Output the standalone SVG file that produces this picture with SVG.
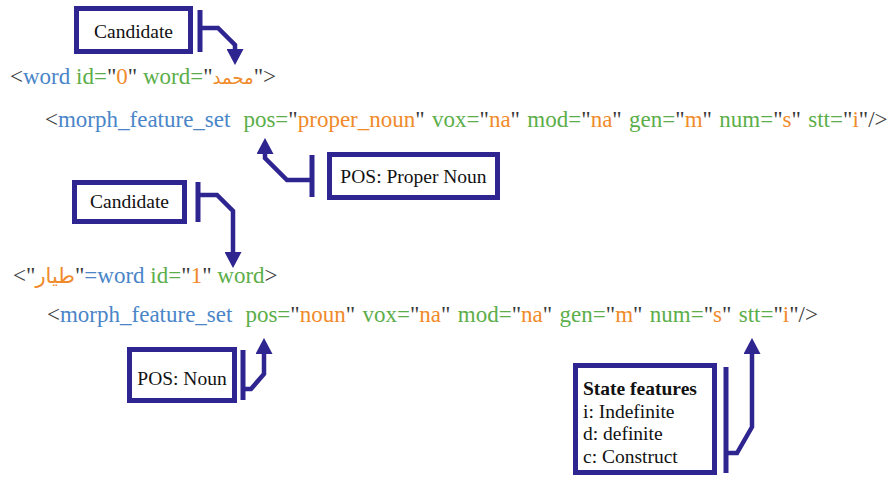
<svg xmlns="http://www.w3.org/2000/svg" width="891" height="477" viewBox="0 0 891 477">
  <style>
    .code { font-family: "Liberation Serif", "Times New Roman", Tinos, "DejaVu Serif", serif; font-size: 23px; fill: #3a3a3a; }
    .attrs { word-spacing: 1.6px; }
    .b { fill: #4a85c8; }
    .g { fill: #5cae4a; }
    .o { fill: #f08a2a; }
    .k { fill: #3a3a3a; }
    .ar { font-family: "DejaVu Sans", "Noto Sans", sans-serif; font-size: 18px; }
    .ar2 { font-size: 21px; }
    .box { fill: #ffffff; stroke: #2e2590; stroke-width: 5; }
    .lbl { font-family: "Liberation Serif", "Times New Roman", Tinos, "DejaVu Serif", serif; font-size: 19.5px; fill: #111111; }
    .bold { font-weight: bold; }
    .bar { fill: none; stroke: #2e2590; stroke-width: 5; }
    .conn { fill: none; stroke: #2e2590; stroke-width: 4.5; stroke-linejoin: miter; }
  </style>
  <defs>
    <marker id="arrow" markerUnits="userSpaceOnUse" markerWidth="16" markerHeight="17" refX="1" refY="8.5" orient="auto">
      <path d="M0,0 L16,8.5 L0,17 Z" fill="#2e2590"/>
    </marker>
  </defs>
  <rect width="891" height="477" fill="#ffffff"/>

  <!-- XML code lines -->
  <g id="code-lines">
    <text class="code" x="10" y="84"><tspan class="k">&lt;</tspan><tspan class="b">word</tspan> <tspan class="g">id=</tspan><tspan class="k">"</tspan><tspan class="o">0</tspan><tspan class="k">"</tspan> <tspan class="g">word=</tspan><tspan class="k">"</tspan><tspan class="o ar">محمد</tspan><tspan class="k">"&gt;</tspan></text>
    <text class="code attrs" x="45" y="127"><tspan class="k">&lt;</tspan><tspan class="b">morph_feature_set</tspan><tspan class="g" dx="13">pos=</tspan><tspan class="k">"</tspan><tspan class="o">proper_noun</tspan><tspan class="k">"</tspan> <tspan class="g">vox=</tspan><tspan class="k">"</tspan><tspan class="o">na</tspan><tspan class="k">"</tspan> <tspan class="g">mod=</tspan><tspan class="k">"</tspan><tspan class="o">na</tspan><tspan class="k">"</tspan> <tspan class="g">gen=</tspan><tspan class="k">"</tspan><tspan class="o">m</tspan><tspan class="k">"</tspan> <tspan class="g">num=</tspan><tspan class="k">"</tspan><tspan class="o">s</tspan><tspan class="k">"</tspan> <tspan class="g">stt=</tspan><tspan class="k">"</tspan><tspan class="o">i</tspan><tspan class="k">"/&gt;</tspan></text>
    <text class="code" x="13" y="283"><tspan class="k">&lt;"</tspan><tspan class="o ar ar2">طيار</tspan><tspan class="k">"</tspan><tspan class="b">=word</tspan> <tspan class="g">id=</tspan><tspan class="k">"</tspan><tspan class="o">1</tspan><tspan class="k">"</tspan> <tspan class="g">word</tspan><tspan class="k">&gt;</tspan></text>
    <text class="code attrs" x="47" y="322"><tspan class="k">&lt;</tspan><tspan class="b">morph_feature_set</tspan><tspan class="g" dx="13">pos=</tspan><tspan class="k">"</tspan><tspan class="o">noun</tspan><tspan class="k">"</tspan> <tspan class="g">vox=</tspan><tspan class="k">"</tspan><tspan class="o">na</tspan><tspan class="k">"</tspan> <tspan class="g">mod=</tspan><tspan class="k">"</tspan><tspan class="o">na</tspan><tspan class="k">"</tspan> <tspan class="g">gen=</tspan><tspan class="k">"</tspan><tspan class="o">m</tspan><tspan class="k">"</tspan> <tspan class="g">num=</tspan><tspan class="k">"</tspan><tspan class="o">s</tspan><tspan class="k">"</tspan> <tspan class="g">stt=</tspan><tspan class="k">"</tspan><tspan class="o">i</tspan><tspan class="k">"/&gt;</tspan></text>
  </g>

  <!-- callout boxes -->
  <g id="candidate-1">
    <rect class="box" x="76.5" y="8.5" width="114" height="43"/>
    <text class="lbl" x="133.5" y="38" text-anchor="middle">Candidate</text>
  </g>
  <g id="pos-proper-noun">
    <rect class="box" x="329.5" y="154.5" width="168" height="43"/>
    <text class="lbl" x="413.5" y="183" text-anchor="middle">POS: Proper Noun</text>
  </g>
  <g id="candidate-2">
    <rect class="box" x="74.5" y="182.5" width="110" height="39"/>
    <text class="lbl" x="129.5" y="208" text-anchor="middle">Candidate</text>
  </g>
  <g id="pos-noun">
    <rect class="box" x="129.5" y="349.5" width="105" height="51"/>
    <text class="lbl" x="182" y="385" text-anchor="middle">POS: Noun</text>
  </g>
  <g id="state-features">
    <rect class="box" x="575.5" y="365.5" width="139" height="107"/>
    <text class="lbl bold" x="583" y="395">State features</text>
    <text class="lbl" x="583" y="417.5">i: Indefinite</text>
    <text class="lbl" x="583" y="440">d: definite</text>
    <text class="lbl" x="583" y="462.5">c: Construct</text>
  </g>

  <!-- connectors: bracket bar plus elbow arrow -->
  <g id="connectors">
    <path class="bar" d="M200,10 V52"/>
    <path class="conn" d="M200,28 H218 L235,45 V50" marker-end="url(#arrow)"/>

    <path class="bar" d="M312,155 V197"/>
    <path class="conn" d="M312,180 H287 L265,158 V153" marker-end="url(#arrow)"/>

    <path class="bar" d="M198,182 V222"/>
    <path class="conn" d="M198,195 H217 L233,211 V253" marker-end="url(#arrow)"/>

    <path class="bar" d="M243,350 V400"/>
    <path class="conn" d="M243,389 H251 L264,374 V353" marker-end="url(#arrow)"/>

    <path class="bar" d="M726,367 V473"/>
    <path class="conn" d="M726,453 H737 L752,427 V353" marker-end="url(#arrow)"/>
  </g>
</svg>
